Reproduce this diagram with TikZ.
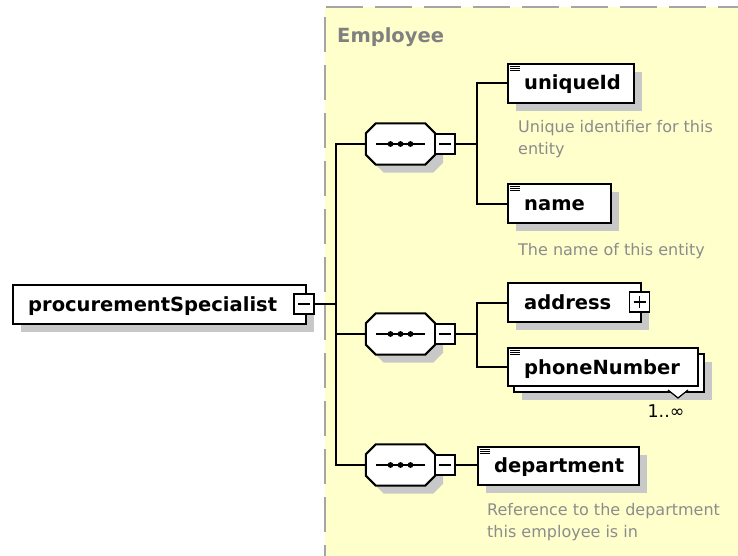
\documentclass[tikz,border=0pt]{standalone}
\usepackage{fontspec}
\setmainfont{DejaVu Sans}
\usetikzlibrary{calc,shadows}
\definecolor{frameyellow}{RGB}{255,255,204}
\definecolor{shadowgray}{RGB}{200,200,200}
\definecolor{dashgray}{RGB}{165,165,165}
\definecolor{descgray}{RGB}{140,140,140}
\definecolor{titlegray}{RGB}{128,128,128}
\newcommand\seqgroup[3]{%
  \node[seqbox] (#1) at (#2,#3) {};
  \begin{scope}[transform canvas={shift={(8pt,-8pt)}}]
    \fill[shadowgray] ($(#1.north west)+(10,0)$) -- ($(#1.north east)+(-10,0)$) -- ($(#1.north east)+(0,10)$) -- ($(#1.south east)+(0,-10)$) -- ($(#1.south east)+(-10,0)$) -- ($(#1.south west)+(10,0)$) -- ($(#1.south west)+(0,-10)$) -- ($(#1.north west)+(0,10)$) -- cycle;
  \end{scope}
  \draw[fill=white, line width=2pt] ($(#1.north west)+(10,0)$) -- ($(#1.north east)+(-10,0)$) -- ($(#1.north east)+(0,10)$) -- ($(#1.south east)+(0,-10)$) -- ($(#1.south east)+(-10,0)$) -- ($(#1.south west)+(10,0)$) -- ($(#1.south west)+(0,-10)$) -- ($(#1.north west)+(0,10)$) -- cycle;
  \draw[line width=1.6pt] ($(#1.west)+(10,0)$) -- ($(#1.east)+(-10,0)$);
  \foreach \dx in {-10,0,10} \fill ($(#1.center)+(\dx,0)$) circle (2.9pt);
  \node[pmbox] (#1m) at ($(#1.east)+(10,0)$) {};
  \draw[line width=1.6pt] ($(#1m.center)+(-6,0)$) -- ($(#1m.center)+(6,0)$);
}
\newcommand\simpleicon[1]{%
  \foreach \dy in {3.2,5.5,7.8}
    \draw[line width=1pt] ($(#1.north west)+(3,\dy)$) -- ($(#1.north west)+(13,\dy)$);
}
\begin{document}
\begin{tikzpicture}[x=1pt,y=-1pt,
  elembox/.style={draw, fill=white, line width=2pt, rectangle, inner sep=0pt, anchor=north west, minimum height=39pt},
  shad/.style={drop shadow={shadow xshift=8pt, shadow yshift=-8pt, fill=shadowgray, opacity=1}},
  lbl/.style={anchor=base west, inner sep=0pt, font=\bfseries\fontsize{19.5}{22}\selectfont},
  desc/.style={anchor=base west, inner sep=0pt, align=left, text=descgray, font=\fontsize{16}{22}\selectfont},
  pmbox/.style={draw, fill=white, line width=1.6pt, minimum width=20pt, minimum height=20pt, inner sep=0pt},
  seqbox/.style={minimum width=69pt, minimum height=41pt, inner sep=0pt},
  conn/.style={line width=2pt}
]
\useasboundingbox (0,0) rectangle (738,556);
% frame
\fill[frameyellow] (325,7) rectangle (738,556);
\draw[dashgray, line width=2.5pt, dash pattern=on 37pt off 12pt] (326,7) -- (738,7);
\draw[dashgray, line width=2.5pt, dash pattern=on 35pt off 13pt, dash phase=38pt] (325,7) -- (325,556);
\node[lbl, text=titlegray] (emp) at (337,43) {Employee};

% root element
\node[elembox, shad, minimum width=293pt] (ps) at (12,284) {};
\node[lbl] (pst) at (28,311) {procurementSpecialist};
\node[pmbox] (psm) at (304,304) {};
\draw[line width=1.6pt] ($(psm.center)+(-6,0)$) -- ($(psm.center)+(6,0)$);

% sequences
\seqgroup{s1}{400.5}{144}
\seqgroup{s2}{400.5}{334}
\seqgroup{s3}{400.5}{465}

% bus
\coordinate (busT) at (336,144);
\coordinate (busM) at (336,334);
\coordinate (busB) at (336,465);
\draw[conn] (psm.east) -- (psm.east -| busT);
\draw[conn] (s1.west) -- (busT) -- (busB) -- (s3.west);
\draw[conn] (busM) -- (s2.west);

% elements group 1
\node[elembox, shad, minimum width=126pt] (uid) at (507,63) {};
\node[lbl] (uidt) at (524,90) {uniqueId};
\simpleicon{uid}
\node[desc] (uidd) at (518,155) {Unique identifier for this\\entity};

\node[elembox, shad, minimum width=103pt] (nm) at (507,183) {};
\node[lbl] (nmt) at (524,210) {name};
\simpleicon{nm}
\node[desc] (nmd) at (518,255) {The name of this entity};

\coordinate (j1) at (477,144);
\draw[conn] (s1m.east) -- (j1);
\draw[conn] (uid.west) -- (uid.west -| j1) |- (nm.west);

% elements group 2
\node[elembox, shad, minimum width=133pt] (addr) at (507,282) {};
\node[lbl] (addrt) at (524,309) {address};
\node[pmbox] (addrp) at (639.5,302) {};
\draw[line width=1.6pt] ($(addrp.center)+(-6,0)$) -- ($(addrp.center)+(6,0)$);
\draw[line width=1.6pt] ($(addrp.center)+(0,-6)$) -- ($(addrp.center)+(0,6)$);

\node[elembox, shad, minimum width=190pt, minimum height=38pt] (phb) at (513,353) {};
\node[elembox, minimum width=190pt, minimum height=38pt] (ph) at (507,347) {};
\node[lbl] (pht) at (524,374) {phoneNumber};
\simpleicon{ph}
\filldraw[fill=white, line width=1.2pt] (668,390) -- (678,398) -- (688,390);
\node[anchor=base, inner sep=0pt, font=\fontsize{17.5}{20}\selectfont] (occ) at (666,417) {1..∞};

\coordinate (j2) at (477,334);
\draw[conn] (s2m.east) -- (j2);
\draw[conn] (addr.west) -- (addr.west -| j2) |- (ph.west);

% elements group 3
\node[elembox, shad, minimum width=161pt, minimum height=38pt] (dept) at (477,446) {};
\node[lbl] (deptt) at (494,472) {department};
\simpleicon{dept}
\node[desc] (deptd) at (487,537) {Reference to the department\\this employee is in};
\draw[conn] (s3m.east) -- (s3m.east -| dept.west);
\end{tikzpicture}
\end{document}
